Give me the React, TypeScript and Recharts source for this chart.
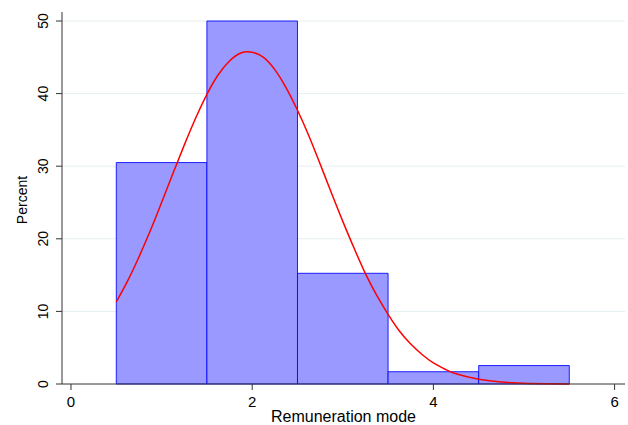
import { ComposedChart, Line, XAxis, YAxis, CartesianGrid, ReferenceArea } from "recharts";

// histogram bins (Percent)
const binStart = [0.5, 1.5, 2.5, 3.5, 4.5];
const binEnd = [1.5, 2.5, 3.5, 4.5, 5.5];
const binPercent = [30.5, 50, 15.25, 1.69, 2.54];

// normal density overlay
const curveX = [
    0.5, 0.625, 0.75, 0.875, 1, 1.125, 1.25, 1.375, 1.5, 1.625, 1.75, 1.875, 2, 2.125, 2.25, 2.375, 2.5, 2.625,
    2.75, 2.875, 3, 3.125, 3.25, 3.375, 3.5, 3.625, 3.75, 3.875, 4, 4.125, 4.25, 4.5, 4.75, 5, 5.25, 5.5,
];
const curveY = [
    11.3, 14.2, 17.5, 21.1, 25.0, 29.0, 32.9, 36.6, 39.9, 42.6, 44.5, 45.6, 45.7, 45.0, 43.3, 40.8, 37.7, 34.2,
    30.3, 26.3, 22.4, 18.7, 15.2, 12.2, 9.6, 7.3, 5.5, 4.06, 2.9, 2.07, 1.4, 0.65, 0.27, 0.1, 0.04, 0.01,
];

const xTicks = [0, 2, 4, 6];
const yTicks = [0, 10, 20, 30, 40, 50];

const curveData = curveX.map((x, i) => ({ x, y: curveY[i] }));

const font = "'Liberation Sans', Arial, sans-serif";

const YTick = (p: any) => (
    <text
        transform={`translate(${p.x - 6},${p.y}) rotate(-90)`}
        textAnchor="middle"
        fontSize={14}
        fontFamily={font}
        fill="#000"
    >
        {p.payload.value}
    </text>
);

const XTick = (p: any) => (
    <text x={p.x} y={p.y + 15} textAnchor="middle" fontSize={15} fontFamily={font} fill="#000">
        {p.payload.value}
    </text>
);

export default function App() {
    return (
        <div style={{ position: "absolute", left: 0, top: 0, width: 628, height: 425, background: "#fff" }}>
            <ComposedChart width={628} height={425} data={curveData} margin={{ top: 12, right: 3, bottom: 0, left: 0 }}>
                <CartesianGrid vertical={false} stroke="#e6eef1" horizontalValues={[10, 20, 30, 40, 50]} />
                <XAxis
                    dataKey="x"
                    type="number"
                    domain={[-0.0993, 6.115]}
                    ticks={xTicks}
                    height={41}
                    tickSize={6}
                    stroke="#333"
                    tick={<XTick />}
                    label={{
                        content: (props: any) => (
                            <text
                                x={props.viewBox.x + props.viewBox.width / 2}
                                y={422}
                                textAnchor="middle"
                                fontSize={16}
                                fontFamily={font}
                                fill="#000"
                            >
                                Remuneration mode
                            </text>
                        ),
                    }}
                />
                <YAxis
                    type="number"
                    domain={[0, 51.24]}
                    ticks={yTicks}
                    width={62}
                    tickSize={6}
                    stroke="#333"
                    tick={<YTick />}
                    label={{
                        content: () => (
                            <text
                                transform="translate(27,200) rotate(-90)"
                                textAnchor="middle"
                                fontSize={14}
                                fontFamily={font}
                                fill="#000"
                            >
                                Percent
                            </text>
                        ),
                    }}
                />
                {binPercent.map((v, i) => (
                    <ReferenceArea
                        key={i}
                        x1={binStart[i]}
                        x2={binEnd[i]}
                        y1={0}
                        y2={v}
                        fill="#9999ff"
                        fillOpacity={1}
                        stroke="#0000ff"
                        strokeWidth={1}
                        strokeOpacity={0.85}
                    />
                ))}
                <Line
                    dataKey="y"
                    type="natural"
                    stroke="#ff0000"
                    strokeWidth={1.5}
                    dot={false}
                    isAnimationActive={false}
                />
            </ComposedChart>
        </div>
    );
}
